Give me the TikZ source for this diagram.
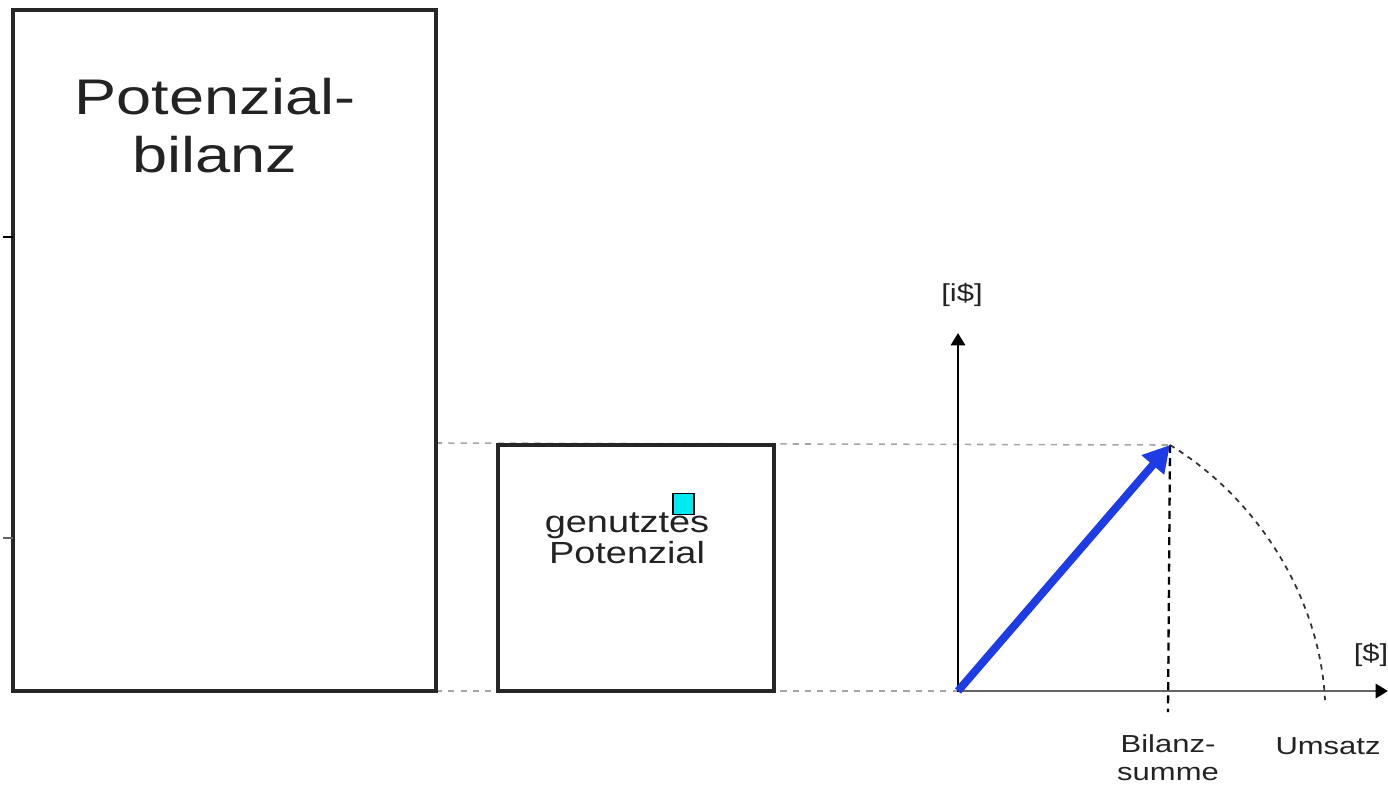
\documentclass[tikz,border=0pt]{standalone}
\usepackage{fontspec}
\setmainfont{Liberation Sans}
\usetikzlibrary{arrows.meta}
\definecolor{txt}{RGB}{35,35,35}
\definecolor{bluearrow}{RGB}{30,60,230}
\definecolor{cyanbox}{RGB}{0,235,240}
\definecolor{axisgray}{RGB}{100,100,100}
\tikzset{
  frame/.style={draw=black!85, line width=2pt},
  guide/.style={draw=black!35, line width=0.9pt, dash pattern=on 3.5pt off 3.5pt},
  dropline/.style={draw=black, line width=1.3pt, dash pattern=on 4.5pt off 3pt},
  arcline/.style={draw=black!80, line width=1pt, dash pattern=on 3pt off 3pt},
  axis/.style={draw=axisgray, line width=1.6pt, -{Triangle[length=7pt,width=8pt,color=black]}},
  label/.style={text=txt, inner sep=0pt, align=center},
}
\begin{document}
\begin{tikzpicture}[x=0.02cm,y=-0.02cm]
\useasboundingbox (0,0) rectangle (1388,784);
% coordinates
\coordinate (bigTL) at (13,10);
\coordinate (bigBR) at (436,691);
\coordinate (smTL) at (498,445);
\coordinate (smBR) at (774,691);
\coordinate (O) at (958,691);
\coordinate (ytop) at (958,333);
\coordinate (xend) at (1388,691);
\coordinate (P) at (1170,445);
\coordinate (Pfoot) at (1168,712);
\coordinate (U) at (1325,700);
\coordinate (guideTopL) at (436,443);
\coordinate (guideBotL) at (436,691);
\coordinate (tick1a) at (3,237);
\coordinate (tick1b) at (13,237);
\coordinate (tick2a) at (3,538);
\coordinate (tick2b) at (13,538);
% guide lines
\path[guide] (guideTopL) -- (P);
\path[guide] (guideBotL) -- (O);
% rectangles
\path[frame, fill=white] (bigTL) rectangle (bigBR);
\path[frame, fill=white] (smTL) rectangle (smBR);
% ticks
\draw[line width=1.5pt] (tick1a) -- (tick1b);
\draw[line width=1.5pt, draw=axisgray] (tick2a) -- (tick2b);
% texts in boxes
\node[label, font=\fontsize{28.5}{33}\selectfont] (bilanz) at (215,126)
  {\scalebox{1.26}[1]{Potenzial-}\\\scalebox{1.26}[1]{bilanz}};
\node[label, font=\fontsize{17.4}{17.5}\selectfont] (genutzt) at (627,538)
  {\scalebox{1.24}[1]{genutztes}\\\scalebox{1.24}[1]{Potenzial}};
\node[draw=black, line width=1pt, fill=cyanbox, minimum size=12pt, inner sep=0pt] (cyan) at (683.5,504) {};
% axes
\draw[axis] (O) -- (ytop);
\draw[axis] (O) -- (xend);
\draw[draw=black, line width=1pt, shorten >=6pt] ([yshift=-0.5pt]O) -- ([yshift=-0.5pt]ytop);
% drop line and arc
\path[dropline] (P) -- (Pfoot);
\path[arcline] (P) .. controls (1260,500) and (1320,600) .. (U);
% blue arrow
\draw[bluearrow, line width=4.5pt, -{Triangle[length=15pt,width=16pt]}] (O) -- (P);
% axis labels
\node[label, font=\fontsize{14}{16}\selectfont] (ylab) at (962,295) {\scalebox{1.26}[1]{[i\$]}};
\node[label, font=\fontsize{14}{16}\selectfont] (xlab) at (1371,655) {\scalebox{1.26}[1]{[\$]}};
\node[label, font=\fontsize{14}{16}\selectfont] (bsum) at (1168,758) {\scalebox{1.26}[1]{Bilanz-}\\\scalebox{1.26}[1]{summe}};
\node[label, font=\fontsize{14}{16}\selectfont] (ums) at (1328,746) {\scalebox{1.26}[1]{Umsatz}};
\end{tikzpicture}
\end{document}
